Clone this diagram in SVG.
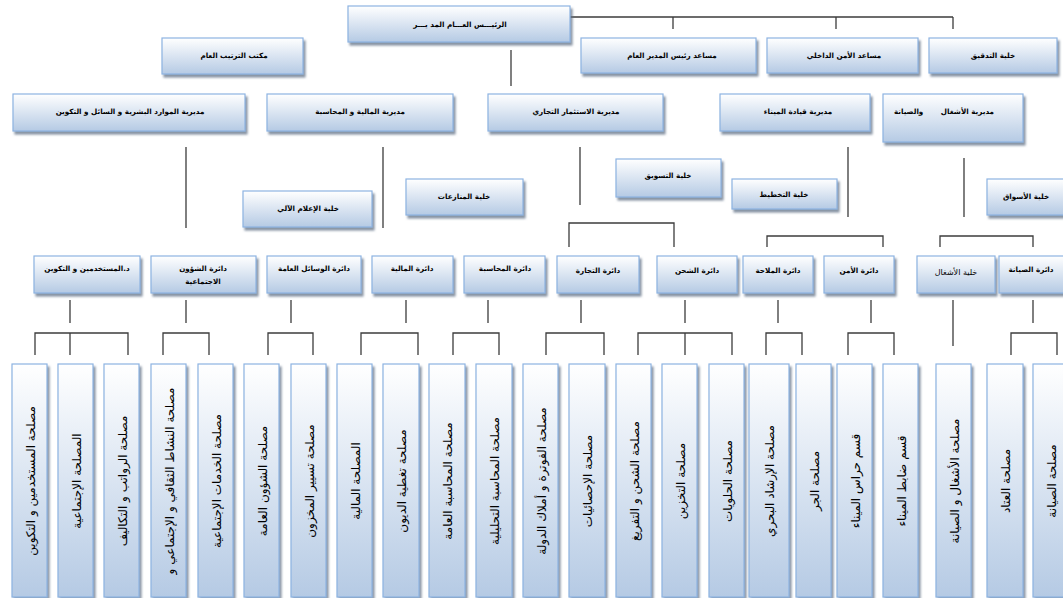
<svg xmlns="http://www.w3.org/2000/svg" width="1063" height="598" viewBox="0 0 1063 598">
<defs>
<linearGradient id="g" x1="0" y1="0" x2="0" y2="1">
<stop offset="0" stop-color="#ffffff"/>
<stop offset="1" stop-color="#b5cae4"/>
</linearGradient>
<filter id="sh" x="-10%" y="-10%" width="130%" height="130%">
<feDropShadow dx="2" dy="3" stdDeviation="0.8" flood-color="#5f6f85" flood-opacity="0.75"/>
</filter>
<style>
.b{fill:url(#g);stroke:#8db3e2;stroke-width:1.2;filter:url(#sh)}
.t{font-family:"DejaVu Sans",sans-serif;font-size:7.2px;font-weight:bold;text-anchor:middle;fill:#000;white-space:pre}
.n{font-weight:normal;font-size:8px}
.v{font-family:"DejaVu Sans",sans-serif;font-size:12px;text-anchor:middle;dominant-baseline:central;fill:#000}
.c{fill:none;stroke:#3c3c3c;stroke-width:1.3}
</style>
</defs>
<rect width="1063" height="598" fill="#fff"/>

<g id="connectors">
<path class="c" d="M570,17H953M673,17V29M836,17V29M953,17V29"/>
<path class="c" d="M511,50V86"/>
<path class="c" d="M186,147V228M383,147V228M580,147V205M848,147V217M964,158V217"/>
<path class="c" d="M569,247V223H674V247M767,247V236H883V247M940,247V236H1033V247"/>
<path class="c" d="M70,300V323M186,300V323M291,300V323M406,300V323M488,300V323M581,300V323M685,300V323M778,300V323M871,300V323M1033,300V323M953,300V346"/>
<path class="c" d="M35,355V333H128V355M70,333V355M163,355V333H209V355M268,355V333H313V355M361,355V333H418V355M453,355V333H499V355M546,355V333H604V355M638,355V333H732V355M685,333V355M766,355V333H802V355M848,355V333H894V355M1011,355V333H1057V355"/>
</g>

<g id="n_top"><rect class="b" x="348" y="6" width="222" height="36"/><text class="t" x="460" y="27">الرئيـــس العـــام المد يـــر</text></g>
<g id="n_asst"><rect class="b" x="581" y="38" width="175" height="35"/><text class="t" x="672" y="58">مساعد رئيس المدير العام</text></g>
<g id="n_sec"><rect class="b" x="767" y="38" width="151" height="35"/><text class="t" x="844" y="58">مساعد الأمن الداخلي</text></g>
<g id="n_audit"><rect class="b" x="929" y="38" width="128" height="35"/><text class="t" x="993" y="58">خلية التدقيق</text></g>
<g id="n_office"><rect class="b" x="162" y="38" width="141" height="36"/><text class="t" x="234" y="58">مكتب الترتيب العام</text></g>

<g id="d_hr"><rect class="b" x="13" y="94" width="232" height="37"/><text class="t" x="130" y="114">مديرية الموارد البشرية و السائل و التكوين</text></g>
<g id="d_fin"><rect class="b" x="267" y="94" width="186" height="37"/><text class="t" x="360" y="114">مديرية المالية و المحاسبة</text></g>
<g id="d_inv"><rect class="b" x="488" y="94" width="175" height="37"/><text class="t" x="576" y="114">مديرية الاستثمار التجاري</text></g>
<g id="d_port"><rect class="b" x="720" y="94" width="150" height="37"/><text class="t" x="798" y="114">مديرية قيادة الميناء</text></g>
<g id="d_works"><rect class="b" x="883" y="94" width="140" height="48"/><text class="t" x="944" y="114">مديرية الأشغال       والصيانة</text></g>

<g id="c_it"><rect class="b" x="243" y="191" width="129" height="36"/><text class="t" x="308" y="211">خلية الإعلام الآلي</text></g>
<g id="c_disp"><rect class="b" x="406" y="179" width="117" height="36"/><text class="t" x="464" y="199">خلية المنازعات</text></g>
<g id="c_mkt"><rect class="b" x="616" y="159" width="105" height="38"/><text class="t" x="668" y="178">خلية التسويق</text></g>
<g id="c_plan"><rect class="b" x="732" y="179" width="105" height="30"/><text class="t" x="784" y="197">خلية التخطيط</text></g>
<g id="c_markets"><rect class="b" x="987" y="179" width="82" height="36"/><text class="t" x="1026" y="199">خلية الأسواق</text></g>

<g id="s_staff"><rect class="b" x="34" y="256" width="106" height="37"/><text class="t" x="87" y="271">د.المستخدمين و التكوين</text></g>
<g id="s_social"><rect class="b" x="151" y="256" width="105" height="37"/><text class="t" x="203" y="271">دائرة الشؤون</text><text class="t" x="203" y="284">الاجتماعية</text></g>
<g id="s_means"><rect class="b" x="267" y="256" width="94" height="37"/><text class="t" x="314" y="271">دائرة الوسائل العامة</text></g>
<g id="s_fin"><rect class="b" x="372" y="256" width="81" height="37"/><text class="t" x="412" y="271">دائرة المالية</text></g>
<g id="s_acct"><rect class="b" x="464" y="256" width="81" height="37"/><text class="t" x="505" y="271">دائرة المحاسبة</text></g>
<g id="s_trade"><rect class="b" x="557" y="256" width="82" height="37"/><text class="t" x="598" y="273">دائرة التجارة</text></g>
<g id="s_ship"><rect class="b" x="657" y="256" width="80" height="37"/><text class="t" x="697" y="273">دائرة الشحن</text></g>
<g id="s_nav"><rect class="b" x="743" y="256" width="70" height="37"/><text class="t" x="778" y="273">دائرة الملاحة</text></g>
<g id="s_secu"><rect class="b" x="824" y="256" width="70" height="37"/><text class="t" x="859" y="273">دائرة الأمن</text></g>
<g id="s_workcell"><rect class="b" x="917" y="256" width="78" height="37"/><text class="t n" x="956" y="275">خلية الأشغال</text></g>
<g id="s_maint"><rect class="b" x="999" y="256" width="70" height="37"/><text class="t" x="1031" y="272">دائرة الصيانة</text></g>

<g id="u01"><rect class="b" x="12" y="364" width="35" height="233"/><text class="v" transform="translate(31,481) rotate(-90)">مصلحة المستخدمين و التكوين</text></g>
<g id="u02"><rect class="b" x="58" y="364" width="35" height="233"/><text class="v" transform="translate(77,481) rotate(-90)">المصلحة الإجتماعية</text></g>
<g id="u03"><rect class="b" x="104" y="364" width="35" height="233"/><text class="v" transform="translate(123,481) rotate(-90)">مصلحة الرواتب و التكاليف</text></g>
<g id="u04"><rect class="b" x="151" y="364" width="35" height="233"/><text class="v" transform="translate(170,481) rotate(-90)">مصلحة النشاط الثقافي و الإجتماعي و</text></g>
<g id="u05"><rect class="b" x="198" y="364" width="35" height="233"/><text class="v" transform="translate(217,481) rotate(-90)">مصلحة الخدمات الإجتماعية</text></g>
<g id="u06"><rect class="b" x="244" y="364" width="35" height="233"/><text class="v" transform="translate(263,481) rotate(-90)">مصلحة الشؤون العامة</text></g>
<g id="u07"><rect class="b" x="291" y="364" width="35" height="233"/><text class="v" transform="translate(310,481) rotate(-90)">مصلحة تسيير المخزون</text></g>
<g id="u08"><rect class="b" x="337" y="364" width="35" height="233"/><text class="v" transform="translate(356,481) rotate(-90)">المصلحة المالية</text></g>
<g id="u09"><rect class="b" x="383" y="364" width="36" height="233"/><text class="v" transform="translate(402,481) rotate(-90)">مصلحة تغطية الديون</text></g>
<g id="u10"><rect class="b" x="429" y="364" width="36" height="233"/><text class="v" transform="translate(448,481) rotate(-90)">مصلحة المحاسبة العامة</text></g>
<g id="u11"><rect class="b" x="476" y="364" width="36" height="233"/><text class="v" transform="translate(495,481) rotate(-90)">مصلحة المحاسبة التحليلية</text></g>
<g id="u12"><rect class="b" x="523" y="364" width="35" height="233"/><text class="v" transform="translate(542,481) rotate(-90)">مصلحة الفوترة و أملاك الدولة</text></g>
<g id="u13"><rect class="b" x="569" y="364" width="36" height="233"/><text class="v" transform="translate(588,481) rotate(-90)">مصلحة الإحصائيات</text></g>
<g id="u14"><rect class="b" x="616" y="364" width="35" height="233"/><text class="v" transform="translate(635,481) rotate(-90)">مصلحة الشحن و التفريغ</text></g>
<g id="u15"><rect class="b" x="662" y="364" width="35" height="233"/><text class="v" transform="translate(681,481) rotate(-90)">مصلحة التخزين</text></g>
<g id="u16"><rect class="b" x="709" y="364" width="35" height="233"/><text class="v" transform="translate(728,481) rotate(-90)">مصلحة الحلويات</text></g>
<g id="u17"><rect class="b" x="749" y="364" width="40" height="233"/><text class="v" transform="translate(770,481) rotate(-90)">مصلحة الإرشاد البحري</text></g>
<g id="u18"><rect class="b" x="796" y="364" width="35" height="233"/><text class="v" transform="translate(815,481) rotate(-90)">مصلحة الجر</text></g>
<g id="u19"><rect class="b" x="837" y="364" width="35" height="233"/><text class="v" transform="translate(856,481) rotate(-90)">قسم حراس الميناء</text></g>
<g id="u20"><rect class="b" x="883" y="364" width="35" height="233"/><text class="v" transform="translate(902,481) rotate(-90)">قسم ضابط الميناء</text></g>
<g id="u21"><rect class="b" x="936" y="364" width="35" height="233"/><text class="v" transform="translate(955,481) rotate(-90)">مصلحة الأشغال و الصيانة</text></g>
<g id="u22"><rect class="b" x="987" y="364" width="36" height="233"/><text class="v" transform="translate(1006,481) rotate(-90)">مصلحة العتاد</text></g>
<g id="u23"><rect class="b" x="1033" y="364" width="36" height="233"/><text class="v" transform="translate(1052,481) rotate(-90)">مصلحة الصيانة</text></g>
</svg>
